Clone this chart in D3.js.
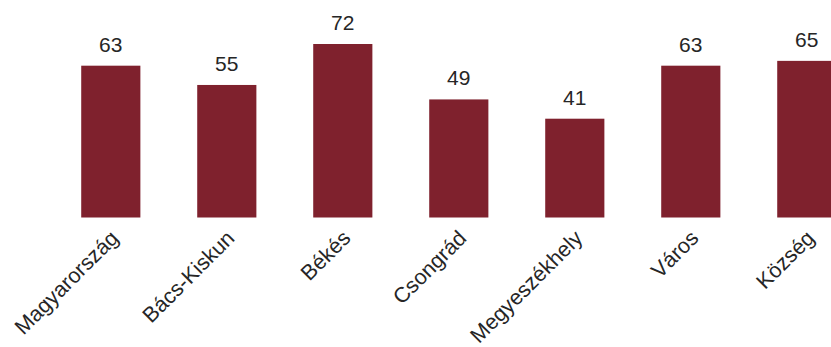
<!DOCTYPE html>
<html>
<head>
<meta charset="utf-8">
<script src="https://cdn.jsdelivr.net/npm/d3@7"></script>
<style>
  html, body { margin: 0; padding: 0; background: #fff; }
  svg { display: block; }
</style>
</head>
<body>
<svg id="chart" width="831" height="347"></svg>
<script>
const categories = ["Magyarország", "Bács-Kiskun", "Békés", "Csongrád", "Megyeszékhely", "Város", "Község"];
const values = [63, 55, 72, 49, 41, 63, 65];

const svg = d3.select("#chart");
const baseline = 217.5;
const x = d3.scaleBand()
  .domain(categories)
  .range([52.8, 52.8 + 7 * 116])
  .paddingInner(0.49)
  .paddingOuter(0.245);
const y = d3.scaleLinear().domain([0, 72]).range([baseline, baseline - 173.5]);

const data = categories.map((c, i) => ({ c, v: values[i] }));

svg.selectAll("rect.bar").data(data).enter().append("rect")
  .attr("class", "bar")
  .attr("x", d => x(d.c))
  .attr("width", x.bandwidth())
  .attr("y", d => y(d.v))
  .attr("height", d => baseline - y(d.v))
  .attr("fill", "#7f212d");

svg.selectAll("text.val").data(data).enter().append("text")
  .attr("class", "val")
  .attr("x", d => x(d.c) + x.bandwidth() / 2)
  .attr("y", d => y(d.v) - 14)
  .attr("text-anchor", "middle")
  .attr("font-family", "Liberation Sans, Arial, sans-serif")
  .attr("font-size", 21)
  .attr("fill", "#262626")
  .text(d => d.v);

svg.selectAll("text.cat").data(data).enter().append("text")
  .attr("class", "cat")
  .attr("transform", d => `translate(${x(d.c) + x.bandwidth() / 2 + 9},${baseline + 22}) rotate(-45)`)
  .attr("text-anchor", "end")
  .attr("font-family", "Liberation Sans, Arial, sans-serif")
  .attr("font-size", 21.5)
  .attr("fill", "#262626")
  .text(d => d.c);
</script>
</body>
</html>
